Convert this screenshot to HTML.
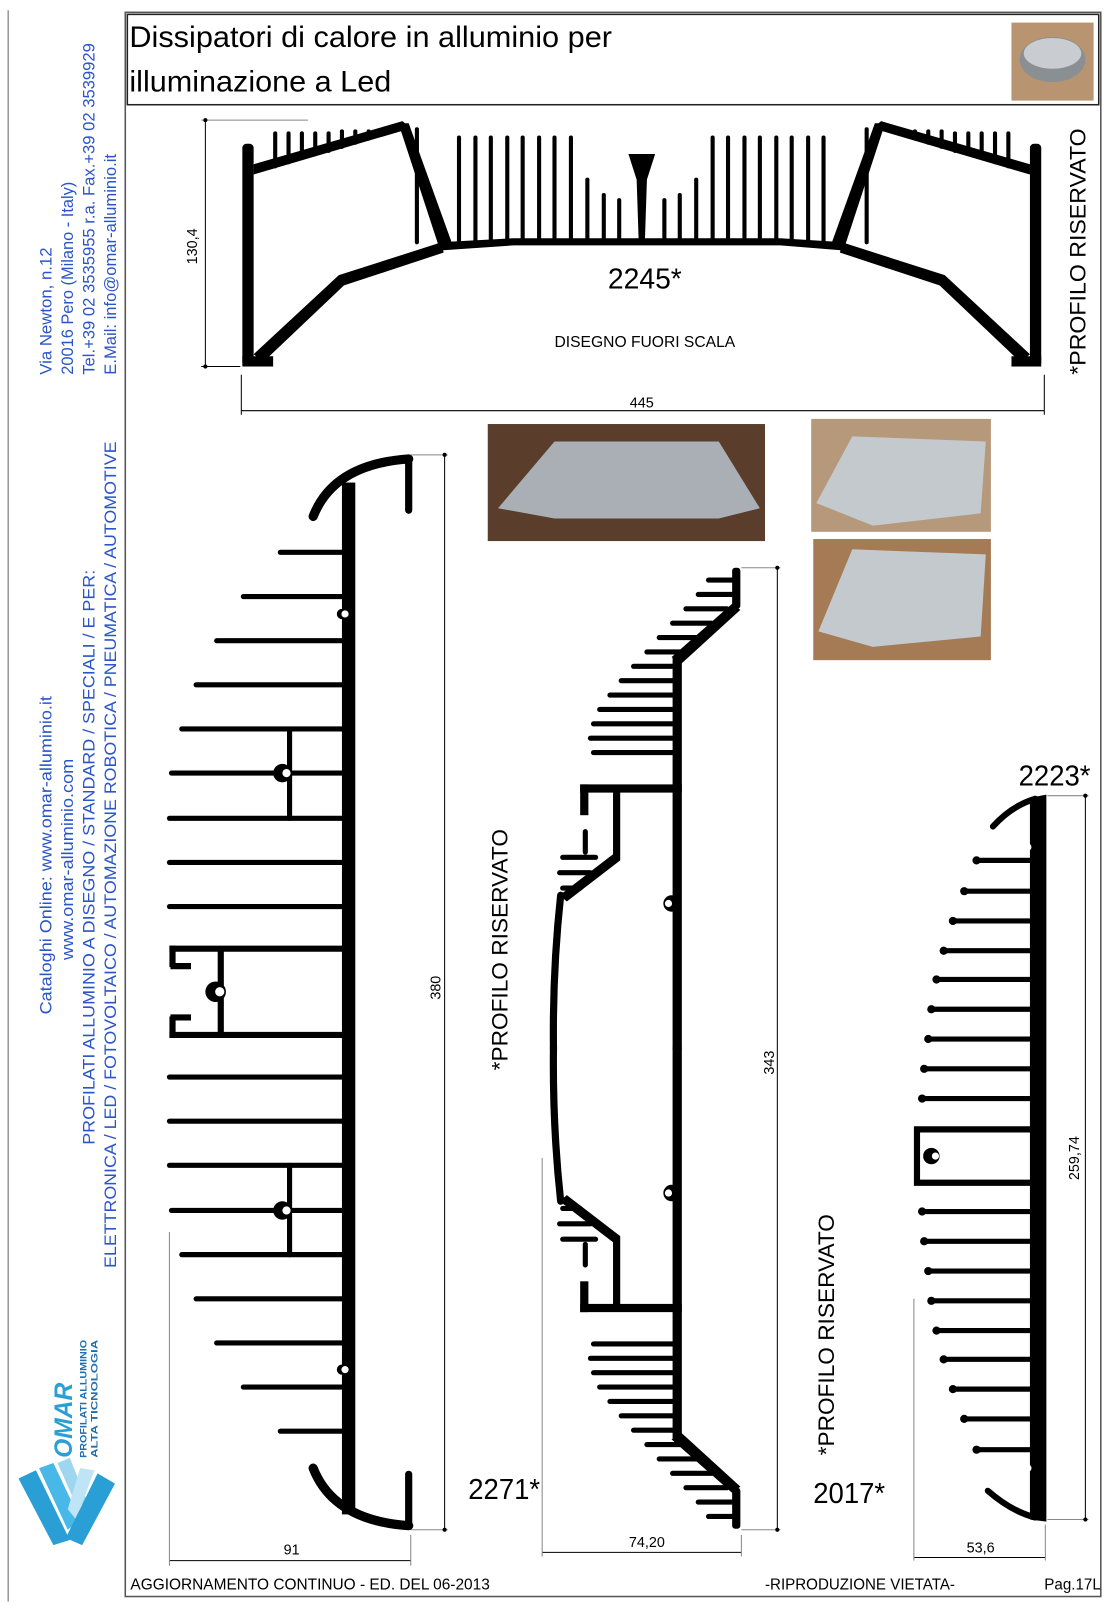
<!DOCTYPE html>
<html><head><meta charset="utf-8"><style>
html,body{margin:0;padding:0;background:#fff;}
svg{display:block;}
text{font-family:"Liberation Sans",sans-serif;}
</style></head><body>
<svg width="1109" height="1615" viewBox="0 0 1080 1573" preserveAspectRatio="none" xmlns="http://www.w3.org/2000/svg" xmlns:xlink="http://www.w3.org/1999/xlink">
<!-- frames -->
<line x1="8" y1="10" x2="8" y2="1560" stroke="#999" stroke-width="1.5"/>
<rect x="122" y="12" width="950" height="1543" fill="none" stroke="#555" stroke-width="1.5"/>
<rect x="124" y="14" width="946" height="88" fill="none" stroke="#222" stroke-width="1.5"/>
<text x="126" y="46" font-size="29" textLength="470" lengthAdjust="spacingAndGlyphs">Dissipatori di calore in alluminio per</text>
<text x="126" y="89" font-size="29" textLength="255" lengthAdjust="spacingAndGlyphs">illuminazione a Led</text>
<rect x="985" y="22" width="80" height="76" fill="#b89470"/>
<ellipse cx="1025" cy="58" rx="32" ry="22" fill="#8a8f94"/>
<ellipse cx="1025" cy="52" rx="28" ry="15" fill="#c9ccd0"/>

<!-- sidebar text -->
<g fill="#2a55c8" font-size="16">
<text transform="translate(50,365) rotate(-90)" textLength="124" lengthAdjust="spacingAndGlyphs">Via Newton, n.12</text>
<text transform="translate(71,365) rotate(-90)" textLength="188" lengthAdjust="spacingAndGlyphs">20016 Pero (Milano - Italy)</text>
<text transform="translate(92,365) rotate(-90)" textLength="323" lengthAdjust="spacingAndGlyphs">Tel.+39 02 3535955 r.a. Fax.+39 02 3539929</text>
<text transform="translate(113,365) rotate(-90)" textLength="215" lengthAdjust="spacingAndGlyphs">E.Mail: info@omar-alluminio.it</text>
<text transform="translate(50,988) rotate(-90)" textLength="310" lengthAdjust="spacingAndGlyphs">Cataloghi Online: www.omar-alluminio.it</text>
<text transform="translate(71,935) rotate(-90)" textLength="196" lengthAdjust="spacingAndGlyphs">www.omar-alluminio.com</text>
<text transform="translate(92,1115) rotate(-90)" textLength="560" lengthAdjust="spacingAndGlyphs">PROFILATI ALLUMINIO A DISEGNO / STANDARD / SPECIALI / E PER:</text>
<text transform="translate(113,1235) rotate(-90)" textLength="805" lengthAdjust="spacingAndGlyphs">ELETTRONICA / LED / FOTOVOLTAICO / AUTOMAZIONE ROBOTICA / PNEUMATICA / AUTOMOTIVE</text>
</g>
<!-- logo -->
<g fill="#1f6fb0" font-weight="bold">
<text transform="translate(70,1420) rotate(-90)" font-size="24" font-style="italic" fill="#2a9fd6">OMAR</text>
<text transform="translate(84,1420) rotate(-90)" font-size="9" textLength="115" lengthAdjust="spacingAndGlyphs">PROFILATI ALLUMINIO</text>
<text transform="translate(95,1420) rotate(-90)" font-size="9" textLength="115" lengthAdjust="spacingAndGlyphs">ALTA TICNOLOGIA</text>
</g>
<g>
<polygon points="18,1440 35,1432 68,1500 52,1505" fill="#2a9fd6"/>
<polygon points="38,1430 52,1425 78,1480 66,1490" fill="#47b8e8"/>
<polygon points="56,1425 68,1420 84,1460 76,1470" fill="#9ed6f0"/>
<polygon points="78,1430 92,1432 74,1480 66,1470" fill="#bfe4f5"/>
<polygon points="95,1435 112,1445 80,1505 64,1498" fill="#2a9fd6"/>
</g>

<!-- TOP PROFILE 2245 -->
<g fill="#000" stroke="none">
<rect x="236" y="140" width="11" height="217" rx="4"/>
<rect x="236" y="347" width="30" height="10"/>
<rect x="1003" y="140" width="11" height="217" rx="4"/>
<rect x="985" y="347" width="29" height="10"/>
<polygon points="247,160 392,118 400,125 247,170"/>
<polygon points="1003,160 858,118 850,125 1003,170"/>
<polygon points="388,120 398,120 442,242 428,242"/>
<polygon points="862,120 852,120 808,242 822,242"/>
<polygon points="428,236 500,232 760,232 822,236 822,244 760,239 500,239 428,244"/>
<polygon points="247,345 330,268 430,236 432,246 335,278 256,353"/>
<polygon points="1003,345 920,268 820,236 818,246 915,278 994,353"/>
<polygon points="612,150 638,150 630,175 628,236 622,236 620,175"/>
</g>
<g stroke="#000" stroke-width="4" stroke-linecap="round">
<line x1="268" y1="130" x2="268" y2="162"/><line x1="281" y1="130" x2="281" y2="158"/><line x1="294" y1="130" x2="294" y2="154"/><line x1="307" y1="130" x2="307" y2="150"/><line x1="320" y1="130" x2="320" y2="147"/><line x1="333" y1="128" x2="333" y2="143"/><line x1="346" y1="128" x2="346" y2="139"/><line x1="359" y1="128" x2="359" y2="135"/>
<line x1="982" y1="130" x2="982" y2="162"/><line x1="969" y1="130" x2="969" y2="158"/><line x1="956" y1="130" x2="956" y2="154"/><line x1="943" y1="130" x2="943" y2="150"/><line x1="930" y1="130" x2="930" y2="147"/><line x1="917" y1="128" x2="917" y2="143"/><line x1="904" y1="128" x2="904" y2="139"/><line x1="891" y1="128" x2="891" y2="135"/>
<line x1="406" y1="126" x2="406" y2="236"/><line x1="844" y1="126" x2="844" y2="236"/>
<line x1="447" y1="134" x2="447" y2="236"/><line x1="463" y1="134" x2="463" y2="236"/><line x1="478" y1="134" x2="478" y2="236"/><line x1="494" y1="134" x2="494" y2="236"/><line x1="509" y1="134" x2="509" y2="236"/><line x1="525" y1="134" x2="525" y2="236"/><line x1="540" y1="134" x2="540" y2="236"/><line x1="556" y1="134" x2="556" y2="236"/>
<line x1="572" y1="175" x2="572" y2="236"/><line x1="588" y1="190" x2="588" y2="236"/><line x1="603" y1="195" x2="603" y2="236"/>
<line x1="647" y1="195" x2="647" y2="236"/><line x1="662" y1="190" x2="662" y2="236"/><line x1="678" y1="175" x2="678" y2="236"/>
<line x1="694" y1="134" x2="694" y2="236"/><line x1="709" y1="134" x2="709" y2="236"/><line x1="725" y1="134" x2="725" y2="236"/><line x1="740" y1="134" x2="740" y2="236"/><line x1="756" y1="134" x2="756" y2="236"/><line x1="771" y1="134" x2="771" y2="236"/><line x1="787" y1="134" x2="787" y2="236"/><line x1="802" y1="134" x2="802" y2="236"/>
</g>
<g stroke="#000" stroke-width="1" fill="none">
<line x1="200" y1="117" x2="200" y2="357"/><line x1="196" y1="117" x2="300" y2="117" stroke="#888"/><line x1="196" y1="357" x2="234" y2="357"/>
<line x1="235" y1="400" x2="1017" y2="400"/><line x1="235" y1="365" x2="235" y2="404"/><line x1="1017" y1="365" x2="1017" y2="404"/>
</g>
<circle cx="200" cy="117" r="2"/><circle cx="200" cy="357" r="2"/>
<text transform="translate(192,240) rotate(-90)" font-size="14" text-anchor="middle">130,4</text>
<text x="625" y="397" font-size="14" text-anchor="middle">445</text>
<text x="628" y="281" font-size="28" text-anchor="middle" textLength="72" lengthAdjust="spacingAndGlyphs">2245*</text>
<text x="628" y="338" font-size="15" text-anchor="middle" textLength="176" lengthAdjust="spacingAndGlyphs">DISEGNO FUORI SCALA</text>
<text transform="translate(1057,245) rotate(-90)" font-size="22" text-anchor="middle" textLength="240" lengthAdjust="spacingAndGlyphs">*PROFILO RISERVATO</text>

<!-- photos -->
<rect x="475" y="413" width="270" height="114" fill="#5a3d2a"/>
<polygon points="485,495 540,430 700,430 740,495 700,505 540,505" fill="#a9afb5"/>
<rect x="790" y="408" width="175" height="110" fill="#b5997a"/>
<polygon points="795,490 830,425 960,430 955,500 850,512" fill="#c4c9ce"/>
<rect x="792" y="525" width="173" height="118" fill="#a57b55"/>
<polygon points="797,615 830,535 960,540 955,620 850,630" fill="#c4c9ce"/>

<!-- LEFT PROFILE -->
<g fill="#000">
<rect x="333" y="470" width="13" height="1005"/>
</g>
<g stroke="#000" stroke-linecap="round" fill="none">
<path d="M305,503 Q325,452 398,447" stroke-width="9"/>
<line x1="398" y1="447" x2="398" y2="497" stroke-width="7"/>
<path d="M305,1430 Q325,1481 398,1486" stroke-width="9"/>
<line x1="398" y1="1436" x2="398" y2="1486" stroke-width="7"/>
<g stroke-width="5">
<line x1="273" y1="538" x2="336" y2="538"/><line x1="237" y1="581" x2="336" y2="581"/><line x1="211" y1="624" x2="336" y2="624"/><line x1="191" y1="667" x2="336" y2="667"/><line x1="177" y1="710" x2="336" y2="710"/><line x1="167" y1="753" x2="336" y2="753"/><line x1="165" y1="797" x2="336" y2="797"/><line x1="165" y1="840" x2="336" y2="840"/><line x1="165" y1="883" x2="336" y2="883"/>
<line x1="165" y1="1049" x2="336" y2="1049"/><line x1="165" y1="1092" x2="336" y2="1092"/><line x1="165" y1="1135" x2="336" y2="1135"/><line x1="167" y1="1179" x2="336" y2="1179"/><line x1="177" y1="1222" x2="336" y2="1222"/><line x1="191" y1="1265" x2="336" y2="1265"/><line x1="211" y1="1308" x2="336" y2="1308"/><line x1="237" y1="1351" x2="336" y2="1351"/><line x1="273" y1="1394" x2="336" y2="1394"/>
<line x1="282" y1="710" x2="282" y2="797"/><line x1="282" y1="1135" x2="282" y2="1222"/>
</g>
<g stroke-width="6" stroke-linecap="butt">
<line x1="165" y1="924" x2="336" y2="924"/><line x1="165" y1="1008" x2="336" y2="1008"/>
<line x1="168" y1="921" x2="168" y2="942"/><line x1="168" y1="990" x2="168" y2="1011"/>
<line x1="166" y1="941" x2="186" y2="941"/><line x1="166" y1="991" x2="186" y2="991"/>
<line x1="215" y1="924" x2="215" y2="1008"/>
</g>
</g>
<g fill="#000"><circle cx="275" cy="753" r="9"/><circle cx="275" cy="1179" r="9"/><circle cx="210" cy="966" r="10"/><circle cx="333" cy="598" r="5"/><circle cx="333" cy="1334" r="5"/></g>
<g fill="#fff"><circle cx="279" cy="753" r="4"/><circle cx="279" cy="1179" r="4"/><circle cx="214" cy="966" r="4.5"/><circle cx="336" cy="598" r="3.5"/><circle cx="336" cy="1334" r="3.5"/></g>
<g stroke="#000" stroke-width="1">
<line x1="433" y1="443" x2="433" y2="1490"/><line x1="400" y1="443" x2="436" y2="443" stroke="#888"/><line x1="400" y1="1490" x2="436" y2="1490" stroke="#888"/>
<line x1="165" y1="1520" x2="400" y2="1520"/><line x1="165" y1="1200" x2="165" y2="1525" stroke="#888"/><line x1="400" y1="1495" x2="400" y2="1525" stroke="#888"/>
</g>
<circle cx="433" cy="443" r="2"/><circle cx="433" cy="1490" r="2"/>
<text transform="translate(429,962) rotate(-90)" font-size="14" text-anchor="middle">380</text>
<text x="284" y="1514" font-size="14" text-anchor="middle">91</text>

<!-- MIDDLE PROFILE 2271 (top half, mirrored) -->
<g id="mtop">
<g fill="#000">
<rect x="713" y="553" width="8" height="40" rx="3"/>
<polygon points="713,588 721,594 664,646 654,640"/>
<rect x="655" y="640" width="9" height="382"/>
<rect x="565" y="764" width="99" height="8"/>
<rect x="565" y="764" width="8" height="30"/>
<rect x="597" y="768" width="7" height="70"/>
<polygon points="597,832 604,838 552,878 545,872"/>
</g>
<g stroke="#000" stroke-linecap="round" fill="none">
<path d="M546,872 Q538,946 539,1022" stroke-width="7"/>
<g stroke-width="5">
<line x1="690" y1="565" x2="715" y2="565"/><line x1="680" y1="579" x2="715" y2="579"/><line x1="668" y1="593" x2="708" y2="593"/><line x1="655" y1="607" x2="693" y2="607"/><line x1="642" y1="621" x2="680" y2="621"/><line x1="630" y1="635" x2="665" y2="635"/><line x1="617" y1="649" x2="658" y2="649"/><line x1="605" y1="663" x2="658" y2="663"/><line x1="594" y1="677" x2="658" y2="677"/><line x1="584" y1="691" x2="658" y2="691"/><line x1="578" y1="705" x2="658" y2="705"/><line x1="575" y1="719" x2="658" y2="719"/><line x1="578" y1="733" x2="658" y2="733"/>
<line x1="548" y1="835" x2="580" y2="835"/><line x1="545" y1="850" x2="575" y2="850"/><line x1="548" y1="865" x2="565" y2="865"/>
<line x1="570" y1="810" x2="570" y2="830"/>
</g></g>
<circle cx="654" cy="880" r="8" fill="#000"/>
<circle cx="651" cy="880" r="3.5" fill="#fff"/>
</g>
<use xlink:href="#mtop" href="#mtop" transform="translate(0,2042) scale(1,-1)"/>
<g stroke="#000" stroke-width="1">
<line x1="757" y1="553" x2="757" y2="1490"/><line x1="722" y1="553" x2="760" y2="553" stroke="#888"/><line x1="722" y1="1490" x2="760" y2="1490" stroke="#888"/>
<line x1="528" y1="1512" x2="722" y2="1512"/><line x1="528" y1="1128" x2="528" y2="1516" stroke="#888"/><line x1="722" y1="1495" x2="722" y2="1516" stroke="#888"/>
</g>
<circle cx="757" cy="553" r="2"/><circle cx="757" cy="1490" r="2"/>
<text transform="translate(754,1035) rotate(-90)" font-size="14" text-anchor="middle">343</text>
<text x="630" y="1507" font-size="14" text-anchor="middle">74,20</text>
<text x="491" y="1460" font-size="28" text-anchor="middle" textLength="70" lengthAdjust="spacingAndGlyphs">2271*</text>
<text transform="translate(494,925) rotate(-90)" font-size="22" text-anchor="middle" textLength="235" lengthAdjust="spacingAndGlyphs">*PROFILO RISERVATO</text>

<!-- RIGHT PROFILE 2223 -->
<g fill="#000">
<polygon points="1003,777 1019,774 1019,1482 1003,1480"/>
</g>
<g stroke="#000" stroke-linecap="round" fill="none">
<path d="M967,805 Q985,785 1008,778" stroke-width="6"/>
<path d="M962,1452 Q985,1472 1008,1478" stroke-width="6"/>
<g stroke-width="5">
<line x1="951" y1="838" x2="1005" y2="838"/><line x1="939" y1="868" x2="1005" y2="868"/><line x1="928" y1="897" x2="1005" y2="897"/><line x1="919" y1="926" x2="1005" y2="926"/><line x1="912" y1="954" x2="1005" y2="954"/><line x1="907" y1="983" x2="1005" y2="983"/><line x1="904" y1="1012" x2="1005" y2="1012"/><line x1="900" y1="1041" x2="1005" y2="1041"/><line x1="898" y1="1070" x2="1005" y2="1070"/>
<line x1="898" y1="1180" x2="1005" y2="1180"/><line x1="900" y1="1209" x2="1005" y2="1209"/><line x1="904" y1="1238" x2="1005" y2="1238"/><line x1="907" y1="1267" x2="1005" y2="1267"/><line x1="912" y1="1296" x2="1005" y2="1296"/><line x1="919" y1="1324" x2="1005" y2="1324"/><line x1="928" y1="1353" x2="1005" y2="1353"/><line x1="939" y1="1382" x2="1005" y2="1382"/><line x1="951" y1="1412" x2="1005" y2="1412"/>
</g>
<path d="M1005,1100 L893,1100 L893,1152 L1005,1152" stroke-width="6" stroke-linecap="butt"/>
</g>
<g fill="#000">
<circle cx="951" cy="838" r="4"/><circle cx="939" cy="868" r="4"/><circle cx="928" cy="897" r="4"/><circle cx="919" cy="926" r="4"/><circle cx="912" cy="954" r="4"/><circle cx="907" cy="983" r="4"/><circle cx="904" cy="1012" r="4"/><circle cx="900" cy="1041" r="4"/><circle cx="898" cy="1070" r="4"/>
<circle cx="898" cy="1180" r="4"/><circle cx="900" cy="1209" r="4"/><circle cx="904" cy="1238" r="4"/><circle cx="907" cy="1267" r="4"/><circle cx="912" cy="1296" r="4"/><circle cx="919" cy="1324" r="4"/><circle cx="928" cy="1353" r="4"/><circle cx="939" cy="1382" r="4"/><circle cx="951" cy="1412" r="4"/>
<circle cx="907" cy="1126" r="8"/>
</g>
<g fill="#fff"><circle cx="911" cy="1126" r="3.5"/><circle cx="1001" cy="825" r="3.5"/><circle cx="1001" cy="1430" r="3.5"/></g>
<g stroke="#000" stroke-width="1">
<line x1="1057" y1="775" x2="1057" y2="1480"/><line x1="1020" y1="775" x2="1060" y2="775" stroke="#888"/><line x1="1020" y1="1480" x2="1060" y2="1480" stroke="#888"/>
<line x1="890" y1="1517" x2="1018" y2="1517"/><line x1="890" y1="1265" x2="890" y2="1520" stroke="#888"/><line x1="1018" y1="1485" x2="1018" y2="1520" stroke="#888"/>
</g>
<circle cx="1057" cy="775" r="2"/><circle cx="1057" cy="1480" r="2"/>
<text transform="translate(1051,1128) rotate(-90)" font-size="14" text-anchor="middle">259,74</text>
<text x="955" y="1512" font-size="14" text-anchor="middle">53,6</text>
<text x="1027" y="765" font-size="28" text-anchor="middle" textLength="70" lengthAdjust="spacingAndGlyphs">2223*</text>
<text x="827" y="1464" font-size="28" text-anchor="middle" textLength="70" lengthAdjust="spacingAndGlyphs">2017*</text>
<text transform="translate(812,1300) rotate(-90)" font-size="22" text-anchor="middle" textLength="235" lengthAdjust="spacingAndGlyphs">*PROFILO RISERVATO</text>

<!-- footer -->
<text x="127" y="1548" font-size="15" textLength="350" lengthAdjust="spacingAndGlyphs">AGGIORNAMENTO CONTINUO - ED. DEL 06-2013</text>
<text x="745" y="1548" font-size="15" textLength="185" lengthAdjust="spacingAndGlyphs">-RIPRODUZIONE VIETATA-</text>
<text x="1017" y="1548" font-size="15" textLength="55" lengthAdjust="spacingAndGlyphs">Pag.17L</text>
</svg>
</body></html>
